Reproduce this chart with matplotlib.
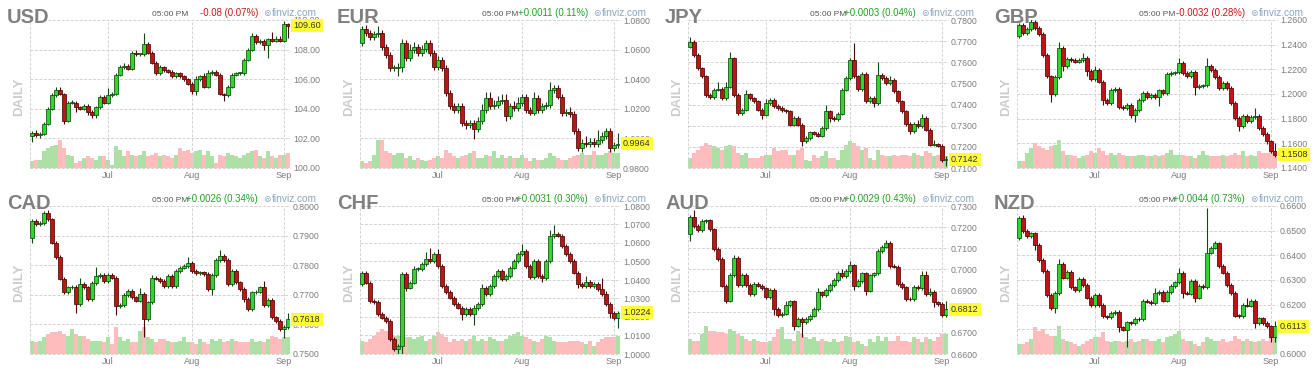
import matplotlib
matplotlib.use("Agg")
import matplotlib.pyplot as plt
import matplotlib.transforms as mtransforms
import numpy as np

plt.rcParams['font.family'] = ['Liberation Sans', 'DejaVu Sans']

W, H = 1316, 372
months = ['Jul', 'Aug', 'Sep']
month_idx = [19, 40, 63]

# ---------------- USD ----------------
usd_open0 = 102.15
usd_close = [102.35, 102.2, 102.3, 103.0, 104.0, 104.9, 105.3, 105.0, 103.2, 104.4,
             104.4, 104.1, 104.0, 104.2, 103.8, 103.6, 104.1, 104.8, 104.4, 104.9,
             105.0, 106.3, 106.8, 106.9, 106.7, 107.8, 107.7, 107.7, 108.4, 107.8,
             107.1, 106.4, 106.8, 106.6, 106.5, 106.2, 106.4, 106.2, 106.0, 105.7,
             105.2, 106.0, 106.2, 105.5, 106.4, 106.5, 106.3, 105.0, 104.9, 105.5,
             106.3, 106.4, 106.4, 107.3, 108.0, 108.9, 108.5, 108.6, 108.3, 108.7,
             108.6, 108.7, 108.6, 109.7, 109.6]
usd_up = [0.15, 0.25, 0.1, 0.1, 0.1, 0.15, 0.2, 0.2, 0.1, 0.1,
          0.2, 0.1, 0.1, 0.1, 0.1, 0.1, 0.1, 0.1, 0.1, 0.5,
          0.15, 0.1, 0.15, 0.2, 0.1, 0.1, 0.2, 0.1, 0.7, 0.1,
          0.1, 0.1, 0.15, 0.1, 0.1, 0.1, 0.1, 0.1, 0.1, 0.1,
          0.1, 0.2, 0.1, 0.2, 0.2, 0.1, 0.1, 0.1, 0.1, 0.1,
          0.1, 0.1, 0.1, 0.1, 0.1, 0.2, 0.15, 0.1, 0.1, 0.1,
          0.5, 0.2, 0.2, 0.2, 0.1]
usd_dn = [0.4, 0.1, 0.2, 0.1, 0.1, 0.1, 0.1, 0.1, 0.2, 0.1,
          0.1, 0.3, 0.1, 0.1, 0.2, 0.2, 0.2, 0.1, 0.1, 0.1,
          0.1, 0.1, 0.1, 0.1, 0.1, 0.1, 0.1, 0.1, 0.1, 0.1,
          0.1, 0.1, 0.1, 0.1, 0.1, 0.1, 0.1, 0.1, 0.1, 0.1,
          0.2, 0.3, 0.1, 0.1, 0.1, 0.1, 0.1, 0.1, 0.4, 0.1,
          0.1, 0.1, 0.1, 0.1, 0.1, 0.1, 0.1, 0.1, 0.3, 0.9,
          0.1, 0.1, 0.1, 0.1, 0.8]
usd_vol = [20, 25, 25, 50, 60, 65, 70, 85, 60, 40, 35, 15, 20, 30, 35, 30, 25, 35, 35, 25,
           10, 65, 55, 35, 50, 40, 35, 40, 50, 35, 40, 45, 35, 40, 35, 30, 40, 60, 50, 55,
           45, 50, 55, 40, 50, 35, 15, 40, 35, 45, 40, 35, 30, 40, 45, 50, 55, 35, 30, 50,
           35, 30, 40, 40, 45]
usd_ticks = [100.0, 102.0, 104.0, 106.0, 108.0, 110.0]

# ---------------- EUR ----------------
eur_open0 = 1.0643
eur_close = [1.0737, 1.0710, 1.0683, 1.0703, 1.0710, 1.0620, 1.0564, 1.0474, 1.0474, 1.0482,
             1.0643, 1.0542, 1.0598, 1.0620, 1.0575, 1.0602, 1.0643, 1.0575, 1.0485, 1.0530,
             1.0474, 1.0306, 1.0220, 1.0193, 1.0220, 1.0103, 1.0092, 1.0103, 1.0063, 1.0115,
             1.0193, 1.0272, 1.0216, 1.0227, 1.0254, 1.0258, 1.0148, 1.0220, 1.0204, 1.0238,
             1.0283, 1.0193, 1.0175, 1.0272, 1.0193, 1.0216, 1.0227, 1.0328, 1.0340, 1.0283,
             1.0171, 1.0180, 1.0164, 1.0047, 0.9935, 0.9969, 0.9962, 0.9973, 0.9962, 0.9986,
             1.0016, 1.0047, 0.9935, 0.9953, 0.9964]
eur_up = [0.002, 0.003, 0.002, 0.002, 0.005, 0.002, 0.002, 0.002, 0.002, 0.003,
          0.003, 0.002, 0.004, 0.003, 0.002, 0.003, 0.002, 0.002, 0.002, 0.003,
          0.002, 0.002, 0.002, 0.002, 0.002, 0.002, 0.002, 0.002, 0.002, 0.003,
          0.004, 0.004, 0.004, 0.003, 0.003, 0.004, 0.004, 0.002, 0.003, 0.004,
          0.002, 0.002, 0.002, 0.004, 0.002, 0.002, 0.002, 0.005, 0.002, 0.002,
          0.002, 0.002, 0.003, 0.002, 0.002, 0.003, 0.005, 0.003, 0.003, 0.007,
          0.003, 0.002, 0.002, 0.002, 0.007]
eur_dn = [0.002, 0.002, 0.002, 0.002, 0.002, 0.002, 0.002, 0.002, 0.002, 0.005,
          0.003, 0.002, 0.002, 0.002, 0.002, 0.002, 0.002, 0.002, 0.002, 0.002,
          0.002, 0.002, 0.002, 0.002, 0.002, 0.002, 0.003, 0.002, 0.007, 0.002,
          0.002, 0.002, 0.002, 0.002, 0.002, 0.002, 0.003, 0.002, 0.002, 0.002,
          0.002, 0.002, 0.002, 0.002, 0.002, 0.002, 0.002, 0.002, 0.002, 0.002,
          0.002, 0.002, 0.002, 0.002, 0.002, 0.003, 0.002, 0.002, 0.002, 0.002,
          0.002, 0.002, 0.003, 0.002, 0.002]
eur_vol = [20, 15, 20, 40, 85, 85, 50, 45, 40, 45, 45, 30, 35, 25, 30, 25, 20, 25, 30, 35,
           30, 55, 45, 35, 30, 35, 40, 45, 50, 30, 30, 40, 35, 50, 30, 40, 30, 35, 30, 30,
           40, 30, 20, 30, 25, 25, 30, 45, 35, 30, 25, 25, 30, 35, 40, 45, 40, 40, 50, 40,
           40, 45, 50, 45, 45]
eur_ticks = [0.98, 1.00, 1.02, 1.04, 1.06, 1.08]

# ---------------- JPY ----------------
jpy_open0 = 0.7674
jpy_close = [0.7698, 0.7635, 0.7572, 0.7533, 0.7446, 0.7435, 0.7470, 0.7475, 0.7430, 0.7485,
             0.7619, 0.7446, 0.7360, 0.7376, 0.7449, 0.7430, 0.7415, 0.7376, 0.7352, 0.7407,
             0.7423, 0.7394, 0.7383, 0.7372, 0.7368, 0.7305, 0.7336, 0.7305, 0.7226, 0.7242,
             0.7268, 0.7262, 0.7253, 0.7289, 0.7368, 0.7336, 0.7330, 0.7357, 0.7470, 0.7525,
             0.7611, 0.7533, 0.7473, 0.7545, 0.7415, 0.7431, 0.7407, 0.7541, 0.7525, 0.7501,
             0.7516, 0.7462, 0.7415, 0.7368, 0.7309, 0.7273, 0.7309, 0.7297, 0.7336, 0.7281,
             0.7210, 0.7212, 0.7205, 0.7139, 0.7142]
jpy_up = [0.002, 0.0008, 0.0008, 0.0008, 0.0008, 0.0008, 0.0008, 0.003, 0.0008, 0.002,
          0.003, 0.0008, 0.0008, 0.0008, 0.002, 0.0008, 0.0008, 0.0008, 0.0008, 0.002,
          0.0008, 0.0008, 0.0008, 0.0008, 0.0008, 0.0008, 0.0008, 0.0008, 0.0008, 0.0008,
          0.0008, 0.0008, 0.0008, 0.0008, 0.003, 0.0008, 0.0008, 0.0008, 0.0008, 0.0008,
          0.0008, 0.008, 0.0008, 0.0008, 0.0008, 0.0008, 0.0008, 0.006, 0.0008, 0.0008,
          0.002, 0.0008, 0.0008, 0.0008, 0.0008, 0.0008, 0.0008, 0.002, 0.002, 0.0008,
          0.0008, 0.002, 0.0008, 0.0008, 0.0015]
jpy_dn = [0.0008, 0.0008, 0.0008, 0.0008, 0.0008, 0.001, 0.0008, 0.0008, 0.0008, 0.0008,
          0.0008, 0.0008, 0.001, 0.0008, 0.0008, 0.0008, 0.0008, 0.0008, 0.002, 0.0008,
          0.0008, 0.0008, 0.0008, 0.0008, 0.0008, 0.0008, 0.0008, 0.0008, 0.002, 0.0008,
          0.0008, 0.0008, 0.0008, 0.0008, 0.0008, 0.002, 0.0008, 0.0008, 0.0008, 0.0008,
          0.0008, 0.0008, 0.0008, 0.0008, 0.0008, 0.0008, 0.002, 0.0008, 0.0008, 0.0008,
          0.0008, 0.0008, 0.0008, 0.0008, 0.0008, 0.001, 0.0008, 0.0008, 0.0008, 0.0008,
          0.0008, 0.0008, 0.0008, 0.001, 0.003]
jpy_vol = [30, 45, 55, 65, 75, 70, 65, 60, 55, 65, 70, 65, 45, 40, 45, 30, 30, 30, 35, 40,
           40, 60, 50, 55, 55, 40, 40, 55, 60, 25, 20, 40, 30, 35, 50, 30, 30, 25, 55, 70,
           80, 75, 65, 55, 60, 30, 25, 55, 40, 35, 35, 40, 35, 40, 40, 35, 45, 40, 35, 50,
           45, 35, 40, 45, 35]
jpy_ticks = [0.71, 0.72, 0.73, 0.74, 0.75, 0.76, 0.77, 0.78]

# ---------------- GBP ----------------
gbp_open0 = 1.2471
gbp_close = [1.2560, 1.2492, 1.2525, 1.2587, 1.2533, 1.2487, 1.2317, 1.2142, 1.1999, 1.2137,
             1.2371, 1.2223, 1.2282, 1.2277, 1.2263, 1.2277, 1.2290, 1.2188, 1.2120, 1.2196,
             1.2101, 1.1953, 1.1926, 1.2029, 1.2040, 1.1894, 1.1886, 1.1914, 1.1832, 1.1872,
             1.1953, 1.2007, 1.1975, 1.1990, 1.1972, 1.2029, 1.2010, 1.2163, 1.2168, 1.2175,
             1.2250, 1.2169, 1.2142, 1.2182, 1.2055, 1.2063, 1.2069, 1.2228, 1.2196, 1.2137,
             1.2047, 1.2088, 1.2047, 1.1926, 1.1805, 1.1737, 1.1822, 1.1778, 1.1816, 1.1820,
             1.1724, 1.1678, 1.1616, 1.1540, 1.1508]
gbp_up = [0.0015, 0.0015, 0.0015, 0.002, 0.0015, 0.0015, 0.0015, 0.0015, 0.0015, 0.0015,
          0.005, 0.0015, 0.0015, 0.0015, 0.0015, 0.0015, 0.004, 0.0015, 0.0015, 0.003,
          0.0015, 0.0015, 0.0015, 0.002, 0.0015, 0.0015, 0.0015, 0.0015, 0.0015, 0.0015,
          0.0015, 0.0015, 0.0015, 0.0015, 0.0015, 0.0015, 0.0015, 0.0015, 0.0015, 0.0015,
          0.004, 0.0015, 0.0015, 0.0015, 0.0015, 0.0015, 0.0015, 0.006, 0.0015, 0.0015,
          0.0015, 0.0015, 0.0015, 0.0015, 0.0015, 0.0015, 0.0015, 0.0015, 0.0015, 0.007,
          0.0015, 0.0015, 0.0015, 0.0015, 0.006]
gbp_dn = [0.0015, 0.0015, 0.0015, 0.0015, 0.0015, 0.0015, 0.0015, 0.0015, 0.006, 0.0015,
          0.0015, 0.004, 0.0015, 0.0015, 0.0015, 0.0015, 0.0015, 0.004, 0.0015, 0.0015,
          0.0015, 0.004, 0.0015, 0.0015, 0.0015, 0.0015, 0.0015, 0.0015, 0.003, 0.006,
          0.0015, 0.0015, 0.0015, 0.0015, 0.0015, 0.007, 0.0015, 0.0015, 0.0015, 0.0015,
          0.0015, 0.0015, 0.0015, 0.0015, 0.006, 0.0015, 0.0015, 0.0015, 0.0015, 0.0015,
          0.0015, 0.0015, 0.0015, 0.0015, 0.0015, 0.004, 0.0015, 0.0015, 0.0015, 0.0015,
          0.0015, 0.0015, 0.002, 0.0015, 0.0015]
gbp_vol = [20, 20, 45, 60, 75, 65, 60, 55, 65, 70, 85, 50, 40, 40, 35, 30, 35, 40, 50, 45,
           60, 50, 40, 45, 40, 45, 40, 35, 35, 35, 40, 40, 35, 35, 40, 35, 40, 45, 55, 40,
           40, 40, 35, 35, 30, 40, 50, 40, 35, 35, 35, 40, 35, 40, 45, 40, 50, 35, 40, 35,
           50, 45, 45, 50, 50]
gbp_ticks = [1.14, 1.16, 1.18, 1.20, 1.22, 1.24, 1.26]

# ---------------- CAD ----------------
cad_open0 = 0.7893
cad_close = [0.7949, 0.7938, 0.7943, 0.7978, 0.7955, 0.7876, 0.7828, 0.7755, 0.7708, 0.7725,
             0.7728, 0.7669, 0.7736, 0.7725, 0.7685, 0.7739, 0.7764, 0.7766, 0.7747, 0.7766,
             0.7758, 0.7661, 0.7665, 0.7699, 0.7712, 0.7691, 0.7680, 0.7703, 0.7618, 0.7674,
             0.7758, 0.7755, 0.7747, 0.7730, 0.7764, 0.7730, 0.7781, 0.7792, 0.7798, 0.7808,
             0.7781, 0.7773, 0.7776, 0.7770, 0.7719, 0.7766, 0.7818, 0.7831, 0.7818, 0.7736,
             0.7781, 0.7742, 0.7719, 0.7685, 0.7652, 0.7708, 0.7711, 0.7725, 0.7665, 0.7683,
             0.7624, 0.7612, 0.7584, 0.7592, 0.7618]
cad_up = [0.0006, 0.0006, 0.0006, 0.0006, 0.001, 0.0006, 0.0006, 0.0006, 0.0006, 0.0006,
          0.0006, 0.0006, 0.002, 0.0006, 0.0006, 0.0006, 0.003, 0.0006, 0.0006, 0.0006,
          0.0006, 0.0006, 0.0006, 0.0006, 0.0006, 0.0006, 0.0006, 0.002, 0.0006, 0.0006,
          0.001, 0.0006, 0.0006, 0.0006, 0.0006, 0.0006, 0.0006, 0.0006, 0.0006, 0.002,
          0.0006, 0.0006, 0.0006, 0.0006, 0.0006, 0.0006, 0.0006, 0.002, 0.0006, 0.0006,
          0.0006, 0.0006, 0.0006, 0.0006, 0.0006, 0.0006, 0.0006, 0.0006, 0.002, 0.0006,
          0.0006, 0.0006, 0.0006, 0.0006, 0.002]
cad_dn = [0.0017, 0.0006, 0.0006, 0.0006, 0.0006, 0.0006, 0.0006, 0.0006, 0.0006, 0.0006,
          0.0006, 0.003, 0.0006, 0.0006, 0.0006, 0.0006, 0.0006, 0.0006, 0.0006, 0.0006,
          0.0006, 0.003, 0.0006, 0.0006, 0.0006, 0.0006, 0.0006, 0.0006, 0.006, 0.0006,
          0.0006, 0.0006, 0.0006, 0.0006, 0.0006, 0.0006, 0.0006, 0.0006, 0.0006, 0.0006,
          0.0006, 0.0006, 0.0006, 0.0006, 0.0006, 0.002, 0.0006, 0.0006, 0.0006, 0.0006,
          0.0006, 0.0006, 0.0006, 0.001, 0.0006, 0.0006, 0.0006, 0.0006, 0.0006, 0.0006,
          0.0006, 0.0006, 0.0006, 0.003, 0.0006]
cad_vol = [40, 35, 40, 50, 60, 65, 65, 70, 60, 55, 75, 60, 55, 55, 45, 40, 40, 40, 35, 50,
           30, 80, 50, 40, 45, 35, 35, 70, 80, 50, 45, 35, 45, 45, 40, 35, 35, 40, 50, 35,
           35, 30, 45, 35, 30, 45, 40, 45, 35, 40, 45, 40, 35, 35, 35, 45, 35, 40, 35, 45,
           55, 50, 45, 50, 50]
cad_ticks = [0.75, 0.76, 0.77, 0.78, 0.79, 0.80]

# ---------------- CHF ----------------
chf_open0 = 1.0377
chf_close = [1.0437, 1.0386, 1.0287, 1.0280, 1.0215, 1.0197, 1.0180, 1.0081, 1.0027, 1.0045,
             1.0431, 1.0359, 1.0386, 1.0458, 1.0460, 1.0485, 1.0512, 1.0503, 1.0539, 1.0476,
             1.0368, 1.0336, 1.0305, 1.0269, 1.0251, 1.0215, 1.0242, 1.0215, 1.0247, 1.0269,
             1.0359, 1.0323, 1.0368, 1.0422, 1.0449, 1.0404, 1.0422, 1.0467, 1.0503, 1.0539,
             1.0557, 1.0476, 1.0418, 1.0503, 1.0422, 1.0410, 1.0503, 1.0638, 1.0647, 1.0640,
             1.0584, 1.0539, 1.0503, 1.0440, 1.0377, 1.0368, 1.0390, 1.0365, 1.0380, 1.0350,
             1.0323, 1.0269, 1.0224, 1.0193, 1.0224]
chf_up = [0.001, 0.001, 0.001, 0.001, 0.001, 0.001, 0.001, 0.001, 0.001, 0.001,
          0.001, 0.001, 0.001, 0.002, 0.001, 0.001, 0.004, 0.006, 0.001, 0.003,
          0.001, 0.001, 0.001, 0.001, 0.001, 0.001, 0.001, 0.001, 0.002, 0.001,
          0.002, 0.001, 0.001, 0.001, 0.001, 0.001, 0.001, 0.001, 0.001, 0.001,
          0.004, 0.001, 0.001, 0.001, 0.001, 0.001, 0.001, 0.003, 0.005, 0.001,
          0.001, 0.001, 0.001, 0.001, 0.001, 0.001, 0.003, 0.001, 0.001, 0.001,
          0.006, 0.002, 0.001, 0.001, 0.001]
chf_dn = [0.001, 0.001, 0.001, 0.001, 0.001, 0.001, 0.001, 0.001, 0.001, 0.003,
          0.005, 0.002, 0.001, 0.001, 0.001, 0.001, 0.001, 0.001, 0.001, 0.001,
          0.001, 0.001, 0.001, 0.001, 0.001, 0.003, 0.001, 0.001, 0.006, 0.001,
          0.001, 0.001, 0.001, 0.001, 0.001, 0.001, 0.001, 0.001, 0.001, 0.001,
          0.001, 0.001, 0.001, 0.001, 0.001, 0.002, 0.001, 0.001, 0.001, 0.001,
          0.001, 0.001, 0.001, 0.001, 0.002, 0.001, 0.001, 0.001, 0.001, 0.001,
          0.001, 0.001, 0.003, 0.001, 0.005]
chf_vol = [40, 35, 45, 55, 65, 75, 70, 60, 55, 55, 55, 50, 50, 45, 50, 55, 40, 45, 55, 65,
           60, 50, 35, 45, 40, 45, 40, 45, 55, 40, 45, 40, 50, 45, 40, 40, 45, 55, 60, 65,
           55, 50, 45, 40, 35, 45, 55, 50, 40, 35, 35, 35, 40, 40, 40, 35, 30, 40, 25, 35,
           45, 50, 50, 50, 55]
chf_ticks = [1.00, 1.01, 1.02, 1.03, 1.04, 1.05, 1.06, 1.07, 1.08]

# ---------------- AUD ----------------
aud_open0 = 0.7166
aud_close = [0.7249, 0.7206, 0.7187, 0.7229, 0.7232, 0.7190, 0.7096, 0.7049, 0.6923, 0.6852,
             0.6973, 0.7056, 0.6926, 0.6973, 0.6926, 0.6883, 0.6931, 0.6923, 0.6910, 0.6868,
             0.6903, 0.6813, 0.6784, 0.6791, 0.6832, 0.6849, 0.6734, 0.6765, 0.6750, 0.6765,
             0.6781, 0.6813, 0.6891, 0.6879, 0.6903, 0.6926, 0.6950, 0.6984, 0.6967, 0.6993,
             0.7020, 0.6923, 0.6946, 0.6982, 0.6899, 0.6972, 0.6982, 0.7088, 0.7108, 0.7127,
             0.7017, 0.7013, 0.6931, 0.6915, 0.6860, 0.6858, 0.6919, 0.6912, 0.6973, 0.6883,
             0.6894, 0.6844, 0.6836, 0.6783, 0.6812]
aud_up = [0.0008, 0.003, 0.0008, 0.0008, 0.0008, 0.0008, 0.0008, 0.0008, 0.0008, 0.0008,
          0.0008, 0.001, 0.0008, 0.0008, 0.0008, 0.0008, 0.0008, 0.0008, 0.0008, 0.0008,
          0.0008, 0.0008, 0.0008, 0.0008, 0.002, 0.0008, 0.0008, 0.0008, 0.0008, 0.0008,
          0.0008, 0.0008, 0.002, 0.0008, 0.0008, 0.0008, 0.0008, 0.0008, 0.002, 0.0008,
          0.002, 0.0008, 0.0008, 0.0008, 0.0008, 0.0008, 0.0008, 0.0008, 0.0008, 0.001,
          0.0008, 0.0008, 0.0008, 0.0008, 0.0008, 0.0008, 0.0008, 0.0008, 0.002, 0.002,
          0.002, 0.0008, 0.0008, 0.0008, 0.004]
aud_dn = [0.003, 0.0008, 0.0008, 0.0008, 0.0008, 0.0008, 0.0008, 0.0008, 0.0008, 0.001,
          0.0008, 0.0008, 0.0008, 0.0008, 0.0008, 0.0008, 0.0008, 0.0008, 0.0008, 0.0008,
          0.0008, 0.003, 0.0008, 0.0008, 0.0008, 0.0008, 0.002, 0.0008, 0.007, 0.0008,
          0.0008, 0.0008, 0.0008, 0.0008, 0.0008, 0.0008, 0.0008, 0.0008, 0.0008, 0.0008,
          0.0008, 0.002, 0.0008, 0.0008, 0.002, 0.0008, 0.0008, 0.0008, 0.0008, 0.0008,
          0.0008, 0.0008, 0.0008, 0.0008, 0.0008, 0.0008, 0.0008, 0.0008, 0.0008, 0.0008,
          0.0008, 0.002, 0.0008, 0.0008, 0.0008]
aud_vol = [45, 40, 40, 60, 85, 70, 70, 65, 65, 60, 75, 70, 60, 55, 45, 40, 45, 40, 35, 35,
           40, 50, 75, 80, 45, 45, 40, 70, 60, 50, 45, 50, 40, 45, 40, 35, 45, 35, 40, 55,
           50, 35, 40, 30, 25, 45, 35, 55, 40, 50, 40, 40, 55, 40, 40, 35, 50, 45, 35, 50,
           45, 40, 50, 60, 60]
aud_ticks = [0.66, 0.67, 0.68, 0.69, 0.70, 0.71, 0.72, 0.73]

# ---------------- NZD ----------------
nzd_open0 = 0.6472
nzd_close = [0.6553, 0.6499, 0.6479, 0.6489, 0.6441, 0.6382, 0.6337, 0.6239, 0.6185, 0.6247,
             0.6364, 0.6310, 0.6334, 0.6270, 0.6260, 0.6306, 0.6279, 0.6229, 0.6198, 0.6239,
             0.6198, 0.6153, 0.6150, 0.6166, 0.6171, 0.6108, 0.6099, 0.6128, 0.6124, 0.6142,
             0.6140, 0.6216, 0.6212, 0.6206, 0.6247, 0.6252, 0.6216, 0.6252, 0.6276, 0.6290,
             0.6328, 0.6247, 0.6245, 0.6296, 0.6229, 0.6276, 0.6270, 0.6411, 0.6431, 0.6449,
             0.6357, 0.6330, 0.6279, 0.6247, 0.6155, 0.6153, 0.6198, 0.6196, 0.6216, 0.6126,
             0.6144, 0.6126, 0.6112, 0.6069, 0.6113]
nzd_up = [0.0007, 0.001, 0.0007, 0.0007, 0.0007, 0.0007, 0.0007, 0.0007, 0.0007, 0.0007,
          0.002, 0.0007, 0.0007, 0.0007, 0.0007, 0.0007, 0.0007, 0.0007, 0.0007, 0.0007,
          0.0007, 0.0007, 0.0007, 0.0007, 0.0007, 0.0007, 0.0007, 0.0007, 0.0007, 0.0007,
          0.0007, 0.0007, 0.0007, 0.0007, 0.002, 0.0007, 0.0007, 0.0007, 0.0007, 0.0007,
          0.002, 0.0007, 0.0007, 0.0007, 0.0007, 0.0007, 0.0007, 0.018, 0.0007, 0.001,
          0.0007, 0.0007, 0.0007, 0.0007, 0.0007, 0.0007, 0.0007, 0.003, 0.0007, 0.0007,
          0.0007, 0.0007, 0.0007, 0.0007, 0.002]
nzd_dn = [0.001, 0.0007, 0.0007, 0.0007, 0.002, 0.001, 0.0007, 0.0007, 0.0007, 0.002,
          0.0007, 0.0007, 0.0007, 0.0007, 0.0007, 0.0007, 0.0007, 0.0007, 0.0007, 0.0007,
          0.0007, 0.0007, 0.0007, 0.0007, 0.0007, 0.002, 0.0007, 0.007, 0.0007, 0.0007,
          0.0007, 0.0007, 0.0007, 0.0007, 0.0007, 0.0007, 0.0007, 0.0007, 0.0007, 0.0007,
          0.0007, 0.002, 0.0007, 0.0007, 0.002, 0.0007, 0.0007, 0.0007, 0.0007, 0.0007,
          0.0007, 0.0007, 0.0007, 0.0007, 0.0007, 0.0007, 0.0007, 0.0007, 0.0007, 0.002,
          0.0007, 0.0007, 0.0007, 0.002, 0.002]
nzd_vol = [30, 30, 35, 45, 80, 70, 75, 60, 55, 55, 85, 45, 40, 35, 30, 25, 30, 40, 45, 50,
           50, 65, 40, 35, 40, 40, 35, 40, 45, 35, 40, 45, 45, 40, 40, 45, 35, 50, 55, 60,
           70, 45, 40, 40, 30, 25, 35, 50, 45, 40, 40, 45, 35, 40, 55, 45, 40, 45, 40, 35,
           40, 45, 40, 50, 50]
nzd_ticks = [0.60, 0.61, 0.62, 0.63, 0.64, 0.65, 0.66]

panels = [
    dict(name='USD', open0=usd_open0, close=usd_close, up=usd_up, dn=usd_dn, vol=usd_vol,
         ticks=usd_ticks, dec=2, chg='-0.08 (0.07%)', pos=False),
    dict(name='EUR', open0=eur_open0, close=eur_close, up=eur_up, dn=eur_dn, vol=eur_vol,
         ticks=eur_ticks, dec=4, chg='+0.0011 (0.11%)', pos=True),
    dict(name='JPY', open0=jpy_open0, close=jpy_close, up=jpy_up, dn=jpy_dn, vol=jpy_vol,
         ticks=jpy_ticks, dec=4, chg='+0.0003 (0.04%)', pos=True),
    dict(name='GBP', open0=gbp_open0, close=gbp_close, up=gbp_up, dn=gbp_dn, vol=gbp_vol,
         ticks=gbp_ticks, dec=4, chg='-0.0032 (0.28%)', pos=False),
    dict(name='CAD', open0=cad_open0, close=cad_close, up=cad_up, dn=cad_dn, vol=cad_vol,
         ticks=cad_ticks, dec=4, chg='+0.0026 (0.34%)', pos=True),
    dict(name='CHF', open0=chf_open0, close=chf_close, up=chf_up, dn=chf_dn, vol=chf_vol,
         ticks=chf_ticks, dec=4, chg='+0.0031 (0.30%)', pos=True),
    dict(name='AUD', open0=aud_open0, close=aud_close, up=aud_up, dn=aud_dn, vol=aud_vol,
         ticks=aud_ticks, dec=4, chg='+0.0029 (0.43%)', pos=True),
    dict(name='NZD', open0=nzd_open0, close=nzd_close, up=nzd_up, dn=nzd_dn, vol=nzd_vol,
         ticks=nzd_ticks, dec=4, chg='+0.0044 (0.73%)', pos=True),
]

col_x = [0, 330, 658, 987]
row_y = [0, 186]
PL, PR, PT, PB = 30, 290, 20, 168

fig = plt.figure(figsize=(W / 100, H / 100), dpi=100)
fig.patch.set_facecolor('white')

GRID = '#d2d2d2'
TXT = '#7c7c7c'


def fx(x):
    return x / W


def fy(y):
    return 1 - y / H


for k, p in enumerate(panels):
    x0 = col_x[k % 4]
    y0 = row_y[k // 4]
    rect = [fx(x0 + PL), fy(y0 + PB), (PR - PL) / W, (PB - PT) / H]
    axv = fig.add_axes(rect)
    ax = fig.add_axes(rect)
    ax.patch.set_visible(False)

    c = np.array(p['close'], dtype=float)
    o = np.concatenate([[p['open0']], c[:-1]])
    n = len(c)
    x = np.arange(n)
    isup = c >= o
    top = np.maximum(o, c)
    bot = np.minimum(o, c)
    hi = top + np.array(p['up'])
    lo = bot - np.array(p['dn'])
    ticks = p['ticks']
    ylo, yhi = ticks[0], ticks[-1]
    rng = yhi - ylo
    hgt = np.maximum(top - bot, rng * 0.006)

    # volume
    vcol = np.where(isup, '#ade0a5', '#ffbcbc')
    axv.bar(x, p['vol'], width=1.0, color=vcol, linewidth=0)
    axv.set_xlim(-0.5, 64.5)
    axv.set_ylim(0, 445)
    axv.axis('off')

    # candles
    face = np.where(isup, '#2ed62e', '#c01414')
    edge = np.where(isup, '#0f4a0f', '#4a0707')
    ax.vlines(x, lo, hi, colors=edge, lw=0.8, zorder=2)
    ax.bar(x, hgt, bottom=bot, width=0.76, color=face, edgecolor=edge,
           linewidth=0.55, zorder=3)

    ax.set_xlim(-0.5, 64.5)
    ax.set_ylim(ylo, yhi)
    for s in ax.spines.values():
        s.set_visible(False)
    ax.set_yticks(ticks)
    ax.set_yticklabels([f'{t:.{p["dec"]}f}' for t in ticks])
    ax.yaxis.tick_right()
    ax.set_xticks(month_idx)
    ax.set_xticklabels(months)
    ax.tick_params(axis='y', length=0, pad=2.2, labelsize=6.3, labelcolor=TXT)
    ax.tick_params(axis='x', length=0, pad=2.5, labelsize=6.6, labelcolor=TXT)
    ax.grid(True, color=GRID, lw=0.7, ls=(0, (3, 1.6)), zorder=0)
    for gl in ax.get_ygridlines() + ax.get_xgridlines():
        gl.set_clip_on(False)
    ax.axvline(-0.5, color=GRID, lw=0.7, ls=(0, (3, 1.6)), clip_on=False)

    # last price tag
    last = c[-1]
    tr = mtransforms.blended_transform_factory(ax.transAxes, ax.transData)
    ax.text(1.012, last, f'{last:.{p["dec"]}f}', transform=tr, ha='left', va='center',
            fontsize=6.5, color='#333333', zorder=10, clip_on=False,
            bbox=dict(boxstyle='square,pad=0.22', fc='#ffff33', ec='none'))

    # header texts
    fig.text(fx(x0 + 7), fy(y0 + 23), p['name'], fontsize=14.5, weight='bold',
             color='#808080', va='baseline', ha='left')
    fig.text(fx(x0 + 19.5), fy(y0 + 97), 'DAILY', rotation=90, fontsize=9.5,
             weight='bold', color='#cdcdcd', ha='center', va='center')
    fig.text(fx(x0 + 152), fy(y0 + 15.5), '05:00 PM', fontsize=6, color='#555555',
             va='baseline', ha='left')
    fig.text(fx(x0 + 258), fy(y0 + 15.5), p['chg'], fontsize=6.9,
             color='#22a022' if p['pos'] else '#c81414', va='baseline', ha='right')
    fig.text(fx(x0 + 263), fy(y0 + 15.5), '\u229a', fontsize=6.5, color='#8aa6c1',
             va='baseline', ha='left', family='DejaVu Sans')
    fig.text(fx(x0 + 272), fy(y0 + 15.5), 'finviz.com', fontsize=7.3, color='#8aa6c1',
             va='baseline', ha='left')

fig.savefig('out.png', dpi=100, facecolor='white')
